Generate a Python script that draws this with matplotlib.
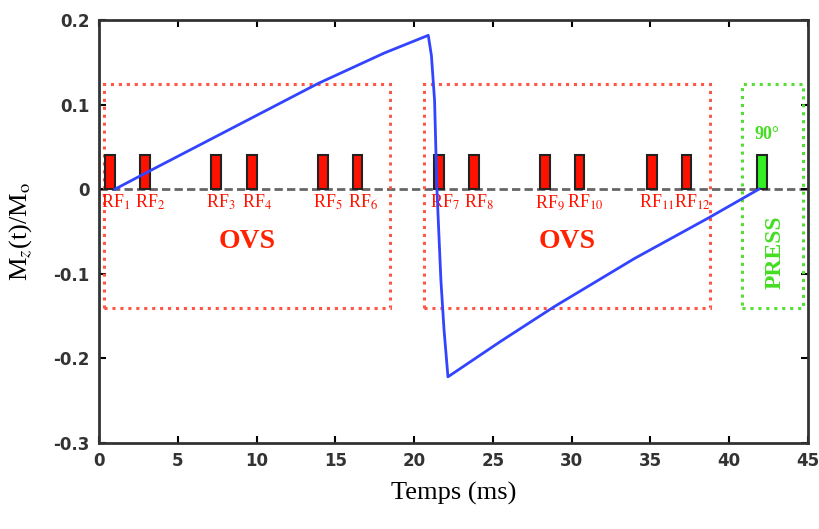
import matplotlib
matplotlib.use("Agg")
import matplotlib.pyplot as plt
from matplotlib.patches import Rectangle

# longitudinal magnetisation
t_ms = [1.0, 3.25, 13.9, 18.1, 20.9, 21.1, 21.3, 21.45, 21.7, 21.9, 22.15,
        25.5, 28.9, 34.0, 38.7, 41.9]
mz = [0.0, 0.022, 0.125, 0.161, 0.182, 0.158, 0.105, 0.0, -0.107, -0.166, -0.222,
      -0.180, -0.139, -0.082, -0.034, 0.0]

# RF pulses
rf_times = [0.7, 2.9, 7.4, 9.7, 14.2, 16.4, 21.6, 23.8, 28.3, 30.5, 35.1, 37.3]
rf_labels = ["RF$_{%d}$" % (i + 1) for i in range(12)]
press_time = 42.1
pulse_height = 0.04

# saturation blocks (start, end)
ovs_blocks = [(0.3, 18.5), (20.6, 38.8)]
press_block = (40.8, 44.7)
block_ymin, block_ymax = -0.14, 0.125

plt.rcParams['mathtext.fontset'] = 'stix'
serif = ['Liberation Serif', 'DejaVu Serif']

fig = plt.figure(figsize=(8.2, 5.29), dpi=100)
ax = fig.add_axes([0.121, 0.163, 0.864, 0.799])

ax.axhline(0, color='#666666', ls=(0, (3, 1.5)), lw=2, zorder=1)

for (a, b) in ovs_blocks:
    ax.add_patch(Rectangle((a, block_ymin), b - a, block_ymax - block_ymin, fill=False,
                           ec='#ff5544', ls=(0, (1, 1.6)), lw=2.2, zorder=2))
    ax.text((a + b) / 2, -0.062, "OVS", color='#ff2200', fontsize=20, fontweight='bold',
            family=serif, ha='center', va='center')
a, b = press_block
ax.add_patch(Rectangle((a, block_ymin), b - a, block_ymax - block_ymin, fill=False,
                       ec='#55dd33', ls=(0, (1, 1.6)), lw=2.2, zorder=2))
ax.text(42.95, -0.075, "PRESS", color='#44dd22', fontsize=17, fontweight='bold',
        family=serif, ha='center', va='center', rotation=90)
ax.text(42.4, 0.065, "90°", color='#44dd22', fontsize=13, fontweight='bold',
        family=serif, ha='center', va='center')

ax.bar(rf_times, [pulse_height] * len(rf_times), width=0.62, align='center',
       color='#ff1100', edgecolor='#222222', lw=1.5, zorder=3)
ax.bar([press_time], [pulse_height], width=0.62, align='center',
       color='#33ee22', edgecolor='#222222', lw=1.5, zorder=3)
for x, lab in zip(rf_times, rf_labels):
    ax.text(x + 0.35, -0.004, lab, color='#ff1100', fontsize=13, family=serif,
            ha='center', va='top', zorder=4)

ax.plot(t_ms, mz, color='#3344ff', lw=2, zorder=5)

ax.set_xlim(0, 45)
ax.set_ylim(-0.3, 0.2)
ax.set_xticks(range(0, 46, 5))
ax.set_yticks([-0.3, -0.2, -0.1, 0, 0.1, 0.2])
ax.set_yticklabels(['-0.3', '-0.2', '-0.1', '0', '0.1', '0.2'])
ax.tick_params(direction='in', top=True, right=True, length=5, width=1.5,
               labelsize=12, pad=7)
for lab in ax.get_xticklabels() + ax.get_yticklabels():
    lab.set_fontweight('bold')
    lab.set_color('#333333')
for s in ax.spines.values():
    s.set_linewidth(2)
    s.set_color('#333333')

ax.set_xlabel("Temps (ms)", fontsize=19, family=serif, labelpad=8)
ax.set_ylabel(r"M$_z$(t)/M$_\mathrm{o}$", fontsize=19, family=serif, labelpad=14)

fig.savefig("out.png", dpi=100)
